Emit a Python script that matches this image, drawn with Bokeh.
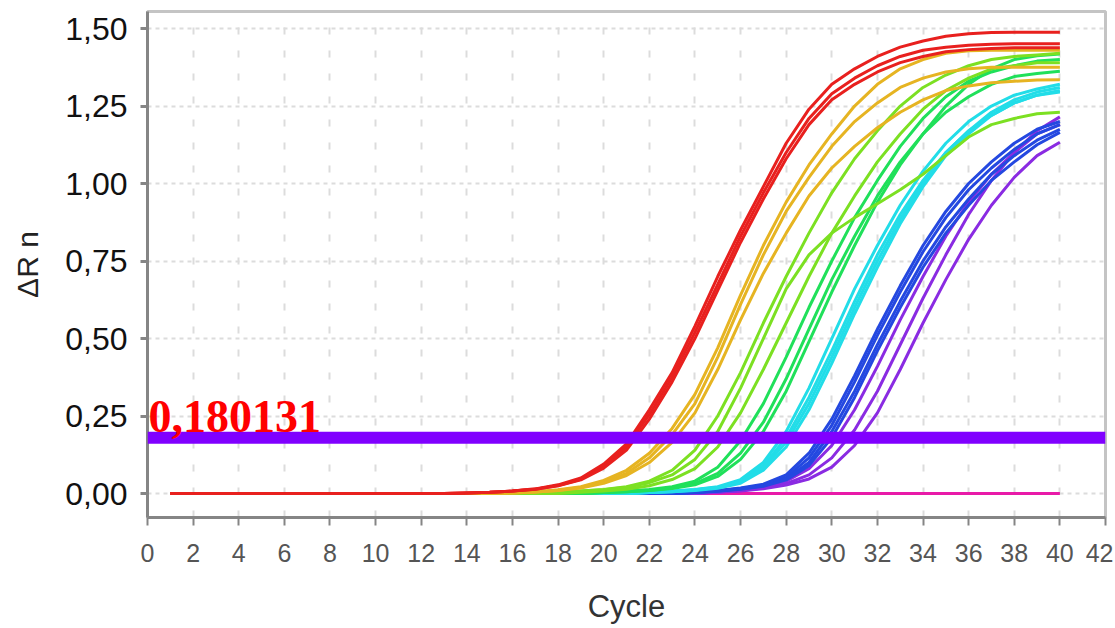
from bokeh.plotting import figure
from bokeh.models import Span, Label, FixedTicker, Range1d
from bokeh.embed import file_html
from bokeh.resources import INLINE

# ---------------- data ----------------
cycles = list(range(1, 41))
threshold = 0.180131
threshold_label = "0,180131"
x_ticks = list(range(0, 43, 2))
y_ticks = [0.0, 0.25, 0.5, 0.75, 1.0, 1.25, 1.5]
y_tick_labels = ["0,00", "0,25", "0,50", "0,75", "1,00", "1,25", "1,50"]

ntc = [0.0] * 40

purple_1 = [0.0] * 24 + [0.005, 0.01, 0.018, 0.032, 0.06, 0.115, 0.205, 0.33, 0.48, 0.63, 0.77, 0.90, 1.01, 1.10, 1.17, 1.215]
purple_2 = [0.0] * 24 + [0.004, 0.008, 0.015, 0.027, 0.047, 0.085, 0.155, 0.26, 0.40, 0.55, 0.69, 0.82, 0.93, 1.02, 1.09, 1.133]
purple_3 = [0.0] * 24 + [0.005, 0.01, 0.02, 0.04, 0.08, 0.155, 0.27, 0.41, 0.56, 0.70, 0.83, 0.94, 1.03, 1.10, 1.16, 1.19]

blue_1 = [0.0] * 23 + [0.004, 0.01, 0.018, 0.03, 0.06, 0.13, 0.24, 0.38, 0.53, 0.67, 0.80, 0.91, 1.00, 1.07, 1.13, 1.175, 1.20]
blue_2 = [0.0] * 23 + [0.004, 0.009, 0.016, 0.027, 0.052, 0.115, 0.22, 0.36, 0.51, 0.65, 0.78, 0.89, 0.98, 1.05, 1.11, 1.16, 1.19]
blue_3 = [0.0] * 23 + [0.003, 0.008, 0.015, 0.025, 0.048, 0.10, 0.20, 0.33, 0.48, 0.62, 0.75, 0.86, 0.95, 1.03, 1.09, 1.14, 1.175]
blue_4 = [0.0] * 23 + [0.003, 0.007, 0.014, 0.023, 0.044, 0.09, 0.18, 0.31, 0.46, 0.60, 0.73, 0.84, 0.93, 1.01, 1.07, 1.125, 1.165]

cyan_1 = [0.0] * 21 + [0.004, 0.008, 0.013, 0.022, 0.045, 0.10, 0.20, 0.34, 0.50, 0.66, 0.80, 0.93, 1.04, 1.13, 1.20, 1.25, 1.285, 1.305, 1.32]
cyan_2 = [0.0] * 21 + [0.003, 0.007, 0.012, 0.02, 0.04, 0.09, 0.18, 0.31, 0.46, 0.62, 0.77, 0.90, 1.01, 1.10, 1.17, 1.22, 1.26, 1.285, 1.30]
cyan_3 = [0.0] * 21 + [0.003, 0.006, 0.01, 0.017, 0.033, 0.075, 0.15, 0.27, 0.42, 0.58, 0.73, 0.87, 0.99, 1.09, 1.16, 1.22, 1.26, 1.285, 1.295]
cyan_4 = [0.0] * 21 + [0.003, 0.006, 0.011, 0.019, 0.037, 0.083, 0.165, 0.29, 0.44, 0.60, 0.75, 0.885, 1.00, 1.10, 1.17, 1.23, 1.27, 1.295, 1.31]

green_1 = [0.0] * 19 + [0.004, 0.008, 0.013, 0.022, 0.04, 0.085, 0.17, 0.29, 0.44, 0.60, 0.75, 0.89, 1.01, 1.12, 1.21, 1.28, 1.33, 1.36, 1.38, 1.395, 1.40]
green_2 = [0.0] * 19 + [0.003, 0.006, 0.01, 0.018, 0.032, 0.065, 0.13, 0.23, 0.37, 0.53, 0.69, 0.83, 0.96, 1.07, 1.16, 1.23, 1.28, 1.32, 1.345, 1.355, 1.362]
green_3 = [0.0] * 19 + [0.003, 0.006, 0.01, 0.016, 0.028, 0.055, 0.11, 0.20, 0.33, 0.49, 0.65, 0.80, 0.94, 1.06, 1.16, 1.25, 1.32, 1.37, 1.40, 1.412, 1.418]

lime_1 = [0.0] * 17 + [0.004, 0.008, 0.013, 0.022, 0.04, 0.075, 0.14, 0.25, 0.39, 0.55, 0.70, 0.84, 0.97, 1.08, 1.17, 1.25, 1.31, 1.35, 1.38, 1.40, 1.41, 1.415, 1.42]
lime_2 = [0.0] * 17 + [0.004, 0.008, 0.012, 0.02, 0.035, 0.06, 0.11, 0.20, 0.34, 0.50, 0.66, 0.77, 0.84, 0.89, 0.935, 0.98, 1.03, 1.09, 1.15, 1.19, 1.21, 1.225, 1.23]
lime_3 = [0.0] * 18 + [0.004, 0.008, 0.014, 0.025, 0.045, 0.08, 0.15, 0.26, 0.40, 0.55, 0.70, 0.84, 0.96, 1.07, 1.16, 1.24, 1.30, 1.34, 1.37, 1.38, 1.39, 1.39]

gold_1 = [0.0] * 15 + [0.003, 0.006, 0.012, 0.022, 0.042, 0.075, 0.13, 0.21, 0.32, 0.47, 0.64, 0.80, 0.94, 1.06, 1.16, 1.25, 1.32, 1.37, 1.40, 1.42, 1.428, 1.43, 1.43, 1.43, 1.43]
gold_2 = [0.0] * 15 + [0.002, 0.005, 0.01, 0.02, 0.037, 0.065, 0.115, 0.19, 0.29, 0.44, 0.61, 0.77, 0.91, 1.02, 1.12, 1.20, 1.26, 1.31, 1.34, 1.36, 1.37, 1.375, 1.375, 1.375, 1.375]
gold_3 = [0.0] * 15 + [0.002, 0.005, 0.01, 0.018, 0.033, 0.058, 0.10, 0.165, 0.26, 0.40, 0.56, 0.71, 0.84, 0.96, 1.05, 1.12, 1.18, 1.23, 1.27, 1.30, 1.315, 1.325, 1.33, 1.334, 1.335]

red_1 = [0.0] * 13 + [0.002, 0.004, 0.008, 0.015, 0.028, 0.05, 0.095, 0.16, 0.27, 0.39, 0.54, 0.70, 0.85, 0.99, 1.13, 1.24, 1.32, 1.37, 1.41, 1.44, 1.46, 1.475, 1.483, 1.487, 1.488, 1.488, 1.488]
red_2 = [0.0] * 13 + [0.002, 0.004, 0.008, 0.014, 0.026, 0.046, 0.088, 0.15, 0.255, 0.375, 0.52, 0.675, 0.83, 0.97, 1.10, 1.21, 1.29, 1.34, 1.38, 1.41, 1.43, 1.44, 1.446, 1.449, 1.451, 1.451, 1.451]
red_3 = [0.0] * 13 + [0.002, 0.004, 0.008, 0.014, 0.025, 0.044, 0.082, 0.14, 0.24, 0.36, 0.50, 0.655, 0.81, 0.95, 1.08, 1.19, 1.27, 1.32, 1.36, 1.39, 1.41, 1.425, 1.432, 1.436, 1.438, 1.438, 1.438]

# drawing order: bottom -> top
groups = [
    ("#e81aa8", [ntc]),
    ("#8a2be2", [purple_1, purple_2, purple_3]),
    ("#2448e0", [blue_1, blue_2, blue_3, blue_4]),
    ("#22dde8", [cyan_1, cyan_2, cyan_3, cyan_4]),
    ("#20e05a", [green_1, green_2, green_3]),
    ("#7ce022", [lime_1, lime_2, lime_3]),
    ("#e6b422", [gold_1, gold_2, gold_3]),
    ("#e8201e", [red_1, red_2, red_3]),
]

SANS = "Liberation Sans"

p = figure(width=1113, height=626, output_backend="svg", toolbar_location=None,
           x_range=Range1d(0, 42), y_range=Range1d(-0.0774, 1.555),
           min_border_left=147, min_border_right=8, min_border_top=11, min_border_bottom=109)
p.background_fill_color = "white"
p.border_fill_color = "white"
p.outline_line_color = "#c4c4c4"
p.outline_line_width = 3

for color, curves in groups:
    for ys in curves:
        p.line(cycles, ys, line_color=color, line_width=3, line_join="round")

p.xaxis.ticker = FixedTicker(ticks=x_ticks)
p.yaxis.ticker = FixedTicker(ticks=y_ticks)
p.yaxis.major_label_overrides = {t: lab for t, lab in zip(y_ticks, y_tick_labels)}

for ax in (p.xaxis[0], p.yaxis[0]):
    ax.axis_line_color = "#858585"
    ax.axis_line_width = 3
    ax.major_tick_line_color = "#858585"
    ax.major_tick_in = 0
    ax.minor_tick_line_color = None
    ax.major_label_text_font = SANS
    ax.axis_label_text_font = SANS
    ax.axis_label_text_font_style = "normal"

p.yaxis.major_tick_out = 7
p.yaxis.major_tick_line_width = 3
p.yaxis.major_label_text_font_size = "32px"
p.yaxis.major_label_text_color = "#111111"
p.yaxis.major_label_standoff = 13
p.yaxis.axis_label = "\u0394R n"
p.yaxis.axis_label_text_font_size = "30px"
p.yaxis.axis_label_text_color = "#222222"
p.yaxis.axis_label_standoff = 18

p.xaxis.major_tick_out = 8
p.xaxis.major_tick_line_width = 2
p.xaxis.major_label_text_font_size = "25px"
p.xaxis.major_label_text_color = "#555555"
p.xaxis.major_label_standoff = 18
p.xaxis.axis_label = "Cycle"
p.xaxis.axis_label_text_font_size = "31px"
p.xaxis.axis_label_text_color = "#333333"
p.xaxis.axis_label_standoff = 24

p.xgrid.grid_line_color = "#dcdcdc"
p.xgrid.grid_line_width = 2
p.xgrid.grid_line_dash = "7 16"
p.ygrid.grid_line_color = "#dcdcdc"
p.ygrid.grid_line_width = 2
p.ygrid.grid_line_dash = "4 4"

p.add_layout(Span(location=threshold, dimension="width", line_color="#8000ff", line_width=12))
p.add_layout(Label(x=0, y=threshold, text=threshold_label, x_offset=1, y_offset=21,
                   text_baseline="alphabetic", text_font="Liberation Serif",
                   text_font_style="bold", text_font_size="46px", text_color="#ff0000"))

open("out.html", "w").write(file_html(p, INLINE))
